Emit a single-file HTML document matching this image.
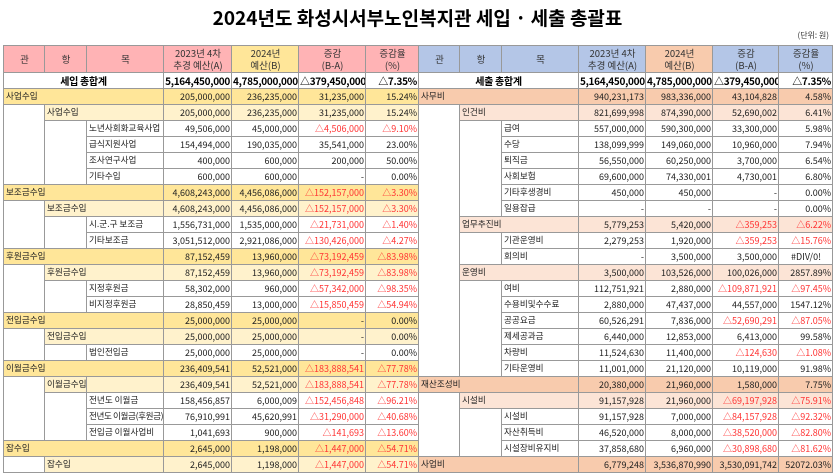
<!DOCTYPE html>
<html><head><meta charset="utf-8"><style>
body{margin:0;width:835px;height:473px;overflow:hidden;background:#fff;font-family:"Liberation Sans","Noto Sans CJK KR",sans-serif;}
.t{position:absolute;left:0;top:4px;width:835px;text-align:center;font-size:19px;font-weight:bold;font-family:"Noto Sans CJK KR",sans-serif;}
.u{position:absolute;right:6px;top:30px;font-size:8px;color:#333;font-family:"Noto Sans CJK KR",sans-serif;}
table{position:absolute;top:45px;border-collapse:collapse;table-layout:fixed;font-size:9px;font-family:"Noto Sans CJK KR",sans-serif;}
td{border:1px solid #999;padding:0 1px 0 2px;height:15px;line-height:15px;white-space:nowrap;overflow:hidden;text-align:right;color:#222;}
tr.h td{height:26px;line-height:12px;text-align:center;font-size:9.5px;color:#333;}
tr.s td{font-weight:bold;font-size:10px;color:#000;letter-spacing:-0.3px;padding:0 1px;}
td.l{text-align:left;font-size:8.6px;}
td.c{text-align:center;}
.r{color:#f33;}
#L{left:3px;width:415px;}#R{left:418px;width:414px;}
.g td{background:#ffe699;}
.y td{background:#fff2cc;}
.o td{background:#f8cbad;}
.p td{background:#fce4d6;}
td.w{background:#fff!important;}
</style></head><body>
<div class="t">2024년도 화성시서부노인복지관 세입 · 세출 총괄표</div>
<div class="u">(단위: 원)</div>
<table id="L">
<colgroup><col style="width:41px"><col style="width:42px"><col style="width:77px"><col style="width:68px"><col style="width:67px"><col style="width:67px"><col style="width:53px"></colgroup>
<tr class="h"><td style="background:#ffb3b5">관</td><td style="background:#ffb3b5">항</td><td style="background:#ffb3b5">목</td><td style="background:#ffb3b5">2023년 4차<br>추경 예산(A)</td><td style="background:#ffe699">2024년<br>예산(B)</td><td style="background:#ffb3b5">증감<br>(B-A)</td><td style="background:#ffb3b5">증감율<br>(%)</td></tr>
<tr class="s"><td colspan="3" class="c">세입 총합계</td><td>5,164,450,000</td><td>4,785,000,000</td><td class="r">△379,450,000</td><td class="r">△7.35%</td></tr>
<tr class="g"><td colspan="3" class="l">사업수입</td><td>205,000,000</td><td>236,235,000</td><td>31,235,000</td><td>15.24%</td></tr>
<tr class="y"><td rowspan="5" class="w"></td><td colspan="2" class="l">사업수입</td><td>205,000,000</td><td>236,235,000</td><td>31,235,000</td><td>15.24%</td></tr>
<tr><td rowspan="4"></td><td class="l">노년사회화교육사업</td><td>49,506,000</td><td>45,000,000</td><td class="r">△4,506,000</td><td class="r">△9.10%</td></tr>
<tr><td class="l">급식지원사업</td><td>154,494,000</td><td>190,035,000</td><td>35,541,000</td><td>23.00%</td></tr>
<tr><td class="l">조사연구사업</td><td>400,000</td><td>600,000</td><td>200,000</td><td>50.00%</td></tr>
<tr><td class="l">기타수입</td><td>600,000</td><td>600,000</td><td>-</td><td>0.00%</td></tr>
<tr class="g"><td colspan="3" class="l">보조금수입</td><td>4,608,243,000</td><td>4,456,086,000</td><td class="r">△152,157,000</td><td class="r">△3.30%</td></tr>
<tr class="y"><td rowspan="3" class="w"></td><td colspan="2" class="l">보조금수입</td><td>4,608,243,000</td><td>4,456,086,000</td><td class="r">△152,157,000</td><td class="r">△3.30%</td></tr>
<tr><td rowspan="2"></td><td class="l">시.군.구 보조금</td><td>1,556,731,000</td><td>1,535,000,000</td><td class="r">△21,731,000</td><td class="r">△1.40%</td></tr>
<tr><td class="l">기타보조금</td><td>3,051,512,000</td><td>2,921,086,000</td><td class="r">△130,426,000</td><td class="r">△4.27%</td></tr>
<tr class="g"><td colspan="3" class="l">후원금수입</td><td>87,152,459</td><td>13,960,000</td><td class="r">△73,192,459</td><td class="r">△83.98%</td></tr>
<tr class="y"><td rowspan="3" class="w"></td><td colspan="2" class="l">후원금수입</td><td>87,152,459</td><td>13,960,000</td><td class="r">△73,192,459</td><td class="r">△83.98%</td></tr>
<tr><td rowspan="2"></td><td class="l">지정후원금</td><td>58,302,000</td><td>960,000</td><td class="r">△57,342,000</td><td class="r">△98.35%</td></tr>
<tr><td class="l">비지정후원금</td><td>28,850,459</td><td>13,000,000</td><td class="r">△15,850,459</td><td class="r">△54.94%</td></tr>
<tr class="g"><td colspan="3" class="l">전입금수입</td><td>25,000,000</td><td>25,000,000</td><td>-</td><td>0.00%</td></tr>
<tr class="y"><td rowspan="2" class="w"></td><td colspan="2" class="l">전입금수입</td><td>25,000,000</td><td>25,000,000</td><td>-</td><td>0.00%</td></tr>
<tr><td></td><td class="l">법인전입금</td><td>25,000,000</td><td>25,000,000</td><td>-</td><td>0.00%</td></tr>
<tr class="g"><td colspan="3" class="l">이월금수입</td><td>236,409,541</td><td>52,521,000</td><td class="r">△183,888,541</td><td class="r">△77.78%</td></tr>
<tr class="y"><td rowspan="4" class="w"></td><td class="l">이월금수입</td><td></td><td>236,409,541</td><td>52,521,000</td><td class="r">△183,888,541</td><td class="r">△77.78%</td></tr>
<tr><td rowspan="3"></td><td class="l">전년도 이월금</td><td>158,456,857</td><td>6,000,009</td><td class="r">△152,456,848</td><td class="r">△96.21%</td></tr>
<tr><td class="l" style="letter-spacing:-0.4px">전년도 이월금(후원금)</td><td>76,910,991</td><td>45,620,991</td><td class="r">△31,290,000</td><td class="r">△40.68%</td></tr>
<tr><td class="l">전입금 이월사업비</td><td>1,041,693</td><td>900,000</td><td class="r">△141,693</td><td class="r">△13.60%</td></tr>
<tr class="g"><td colspan="3" class="l">잡수입</td><td>2,645,000</td><td>1,198,000</td><td class="r">△1,447,000</td><td class="r">△54.71%</td></tr>
<tr class="y"><td class="w"></td><td colspan="2" class="l">잡수입</td><td>2,645,000</td><td>1,198,000</td><td class="r">△1,447,000</td><td class="r">△54.71%</td></tr>
</table>
<table id="R">
<colgroup><col style="width:41px"><col style="width:42px"><col style="width:77px"><col style="width:67px"><col style="width:67px"><col style="width:66px"><col style="width:54px"></colgroup>
<tr class="h"><td style="background:#b4c6e7">관</td><td style="background:#b4c6e7">항</td><td style="background:#b4c6e7">목</td><td style="background:#b4c6e7">2023년 4차<br>추경 예산(A)</td><td style="background:#f8cbad">2024년<br>예산(B)</td><td style="background:#b4c6e7">증감<br>(B-A)</td><td style="background:#b4c6e7">증감율<br>(%)</td></tr>
<tr class="s"><td colspan="3" class="c">세출 총합계</td><td>5,164,450,000</td><td>4,785,000,000</td><td class="r">△379,450,000</td><td class="r">△7.35%</td></tr>
<tr class="o"><td colspan="3" class="l">사무비</td><td>940,231,173</td><td>983,336,000</td><td>43,104,828</td><td>4.58%</td></tr>
<tr class="p"><td rowspan="17" class="w"></td><td colspan="2" class="l">인건비</td><td>821,699,998</td><td>874,390,000</td><td>52,690,002</td><td>6.41%</td></tr>
<tr><td rowspan="6"></td><td class="l">급여</td><td>557,000,000</td><td>590,300,000</td><td>33,300,000</td><td>5.98%</td></tr>
<tr><td class="l">수당</td><td>138,099,999</td><td>149,060,000</td><td>10,960,000</td><td>7.94%</td></tr>
<tr><td class="l">퇴직금</td><td>56,550,000</td><td>60,250,000</td><td>3,700,000</td><td>6.54%</td></tr>
<tr><td class="l">사회보험</td><td>69,600,000</td><td>74,330,001</td><td>4,730,001</td><td>6.80%</td></tr>
<tr><td class="l">기타후생경비</td><td>450,000</td><td>450,000</td><td>-</td><td>0.00%</td></tr>
<tr><td class="l">일용잡급</td><td>-</td><td>-</td><td>-</td><td>0.00%</td></tr>
<tr class="p"><td colspan="2" class="l">업무추진비</td><td>5,779,253</td><td>5,420,000</td><td class="r">△359,253</td><td class="r">△6.22%</td></tr>
<tr><td rowspan="2"></td><td class="l">기관운영비</td><td>2,279,253</td><td>1,920,000</td><td class="r">△359,253</td><td class="r">△15.76%</td></tr>
<tr><td class="l">회의비</td><td>-</td><td>3,500,000</td><td>3,500,000</td><td class="c">#DIV/0!</td></tr>
<tr class="p"><td colspan="2" class="l">운영비</td><td>3,500,000</td><td>103,526,000</td><td>100,026,000</td><td>2857.89%</td></tr>
<tr><td rowspan="6"></td><td class="l">여비</td><td>112,751,921</td><td>2,880,000</td><td class="r">△109,871,921</td><td class="r">△97.45%</td></tr>
<tr><td class="l">수용비및수수료</td><td>2,880,000</td><td>47,437,000</td><td>44,557,000</td><td>1547.12%</td></tr>
<tr><td class="l">공공요금</td><td>60,526,291</td><td>7,836,000</td><td class="r">△52,690,291</td><td class="r">△87.05%</td></tr>
<tr><td class="l">제세공과금</td><td>6,440,000</td><td>12,853,000</td><td>6,413,000</td><td>99.58%</td></tr>
<tr><td class="l">차량비</td><td>11,524,630</td><td>11,400,000</td><td class="r">△124,630</td><td class="r">△1.08%</td></tr>
<tr><td class="l">기타운영비</td><td>11,001,000</td><td>21,120,000</td><td>10,119,000</td><td>91.98%</td></tr>
<tr class="o"><td colspan="3" class="l">재산조성비</td><td>20,380,000</td><td>21,960,000</td><td>1,580,000</td><td>7.75%</td></tr>
<tr class="p"><td rowspan="4" class="w"></td><td colspan="2" class="l">시설비</td><td>91,157,928</td><td>21,960,000</td><td class="r">△69,197,928</td><td class="r">△75.91%</td></tr>
<tr><td rowspan="3"></td><td class="l">시설비</td><td>91,157,928</td><td>7,000,000</td><td class="r">△84,157,928</td><td class="r">△92.32%</td></tr>
<tr><td class="l">자산취득비</td><td>46,520,000</td><td>8,000,000</td><td class="r">△38,520,000</td><td class="r">△82.80%</td></tr>
<tr><td class="l">시설장비유지비</td><td>37,858,680</td><td>6,960,000</td><td class="r">△30,898,680</td><td class="r">△81.62%</td></tr>
<tr class="o"><td colspan="3" class="l">사업비</td><td>6,779,248</td><td>3,536,870,990</td><td>3,530,091,742</td><td>52072.03%</td></tr>
</table>
</body></html>
